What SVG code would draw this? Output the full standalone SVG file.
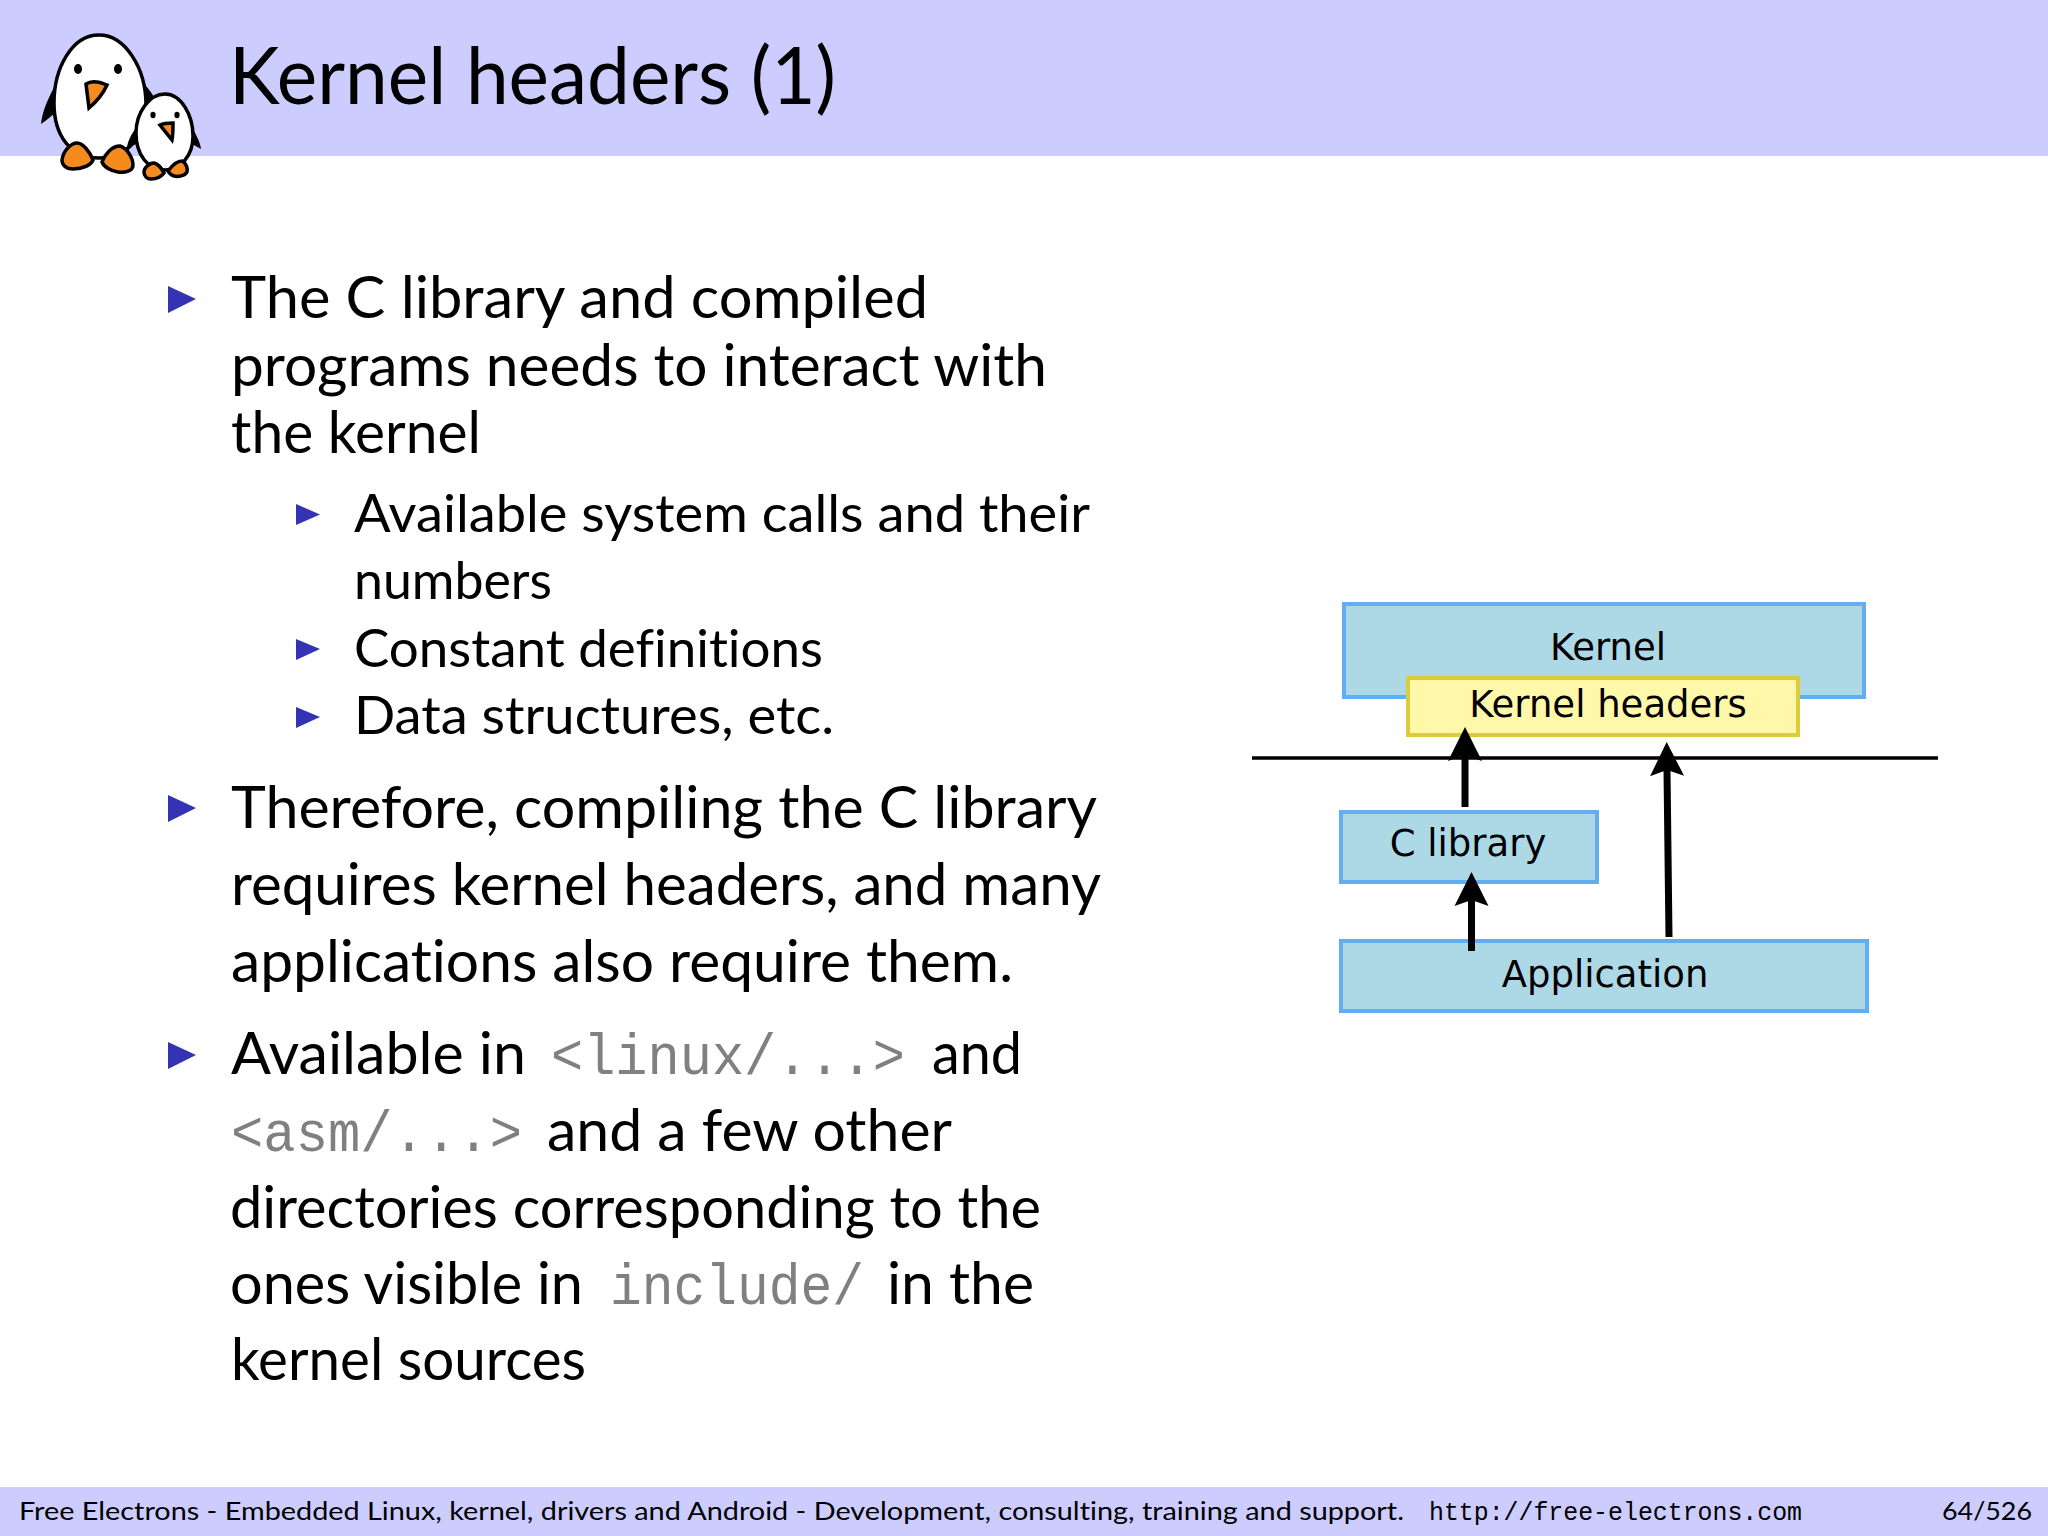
<svg xmlns="http://www.w3.org/2000/svg" width="2048" height="1536" viewBox="0 0 2048 1536">
<defs>
<style>
text{font-family:Lato,"Open Sans",sans-serif;fill:#000;font-variant-ligatures:none}
.t{font-size:80px}
.a{font-size:58px}
.b{font-size:52px}
.m{font-family:"Liberation Mono",monospace;font-size:58px;fill:#808080}
.f{font-size:25px}
.fm{font-family:"Liberation Mono",monospace;font-size:25px}
.d{font-family:"DejaVu Sans",sans-serif;font-size:37px;text-anchor:middle}
.bar{fill:#ccccff}
.box{fill:#add8e6;stroke:#62aef2;stroke-width:4}
.yel{fill:#fff8a8;stroke:#dccb3e;stroke-width:4}
.ar{stroke:#000;stroke-width:7;fill:none;marker-end:url(#h)}
.bl{fill:#3333b3}
.pb{fill:#fff;stroke:#000;stroke-width:3.5}
.pk{fill:#000;stroke:none}
.po{fill:#f58a1f;stroke:#000;stroke-width:3.5}
</style>
<marker id="h" markerUnits="userSpaceOnUse" markerWidth="36" markerHeight="36" refX="6" refY="17" orient="auto" viewBox="0 0 36 34"><path d="M34 17L0 0L6 17L0 34Z" fill="#000"/></marker>
</defs>
<rect width="2048" height="1536" fill="#fff"/>
<rect class="bar" width="2048" height="156"/>
<rect class="bar" y="1487" width="2048" height="49"/>
<g id="logo">
<path class="pk" d="M56 84C48 98 42 112 41 124C48 119 53 115 58 110Z"/>
<path class="pk" d="M144 84C150 90 154 96 156 102L140 120Z"/>
<path class="pb" d="M99 35C125 35 146 68 146 105C146 135 128 158 99 158C70 158 54 135 54 103C54 68 72 35 99 35Z"/>
<ellipse class="pk" cx="78" cy="69" rx="4" ry="5"/>
<ellipse class="pk" cx="118" cy="69" rx="4" ry="5"/>
<path class="po" d="M86 84C92 80 100 82 107 85C103 94 96 102 89 108Z"/>
<path class="po" d="M62 160C63 151 71 143 77 143C83 143 90 152 93 160C91 165 83 169 73 169C66 169 62 165 62 160Z"/>
<path class="po" d="M102 162C105 154 112 146 120 146C127 148 133 158 133 165C133 171 125 173 118 172C111 171 104 167 102 162Z"/>
<path class="pk" d="M137 127C131 134 128 141 127 147L137 144Z"/>
<path class="pk" d="M192 128C196 134 200 142 201 149L192 144Z"/>
<path class="pb" d="M165 94C181 94 193 115 193 136C193 155 181 170 165 170C148 170 136 155 136 133C136 113 149 94 165 94Z"/>
<ellipse class="pk" cx="153" cy="115" rx="2.6" ry="3.3"/>
<ellipse class="pk" cx="177" cy="115" rx="2.6" ry="3.3"/>
<path class="po" d="M160 125C164 123 169 123 173 123C173 129 173 135 172 140Z"/>
<path class="po" d="M144 172C144 168 149 163 154 163C158 164 162 169 164 173C161 177 156 179 151 179C147 179 144 176 144 172Z"/>
<path class="po" d="M168 171C171 167 177 161 182 161C186 163 188 168 187 172C185 176 178 177 174 176C171 175 169 173 168 171Z"/>
</g>
<text class="t" x="229" y="104" textLength="607" lengthAdjust="spacingAndGlyphs">Kernel headers (1)</text>
<g id="content">
<path class="bl" d="M168 286L196 299L168 313Z"/>
<path class="bl" d="M168 795L196 808L168 822Z"/>
<path class="bl" d="M168 1042L196 1055L168 1069Z"/>
<path class="bl" d="M296 504L320 514.500L296 525Z"/>
<path class="bl" d="M296 639L320 649L296 660Z"/>
<path class="bl" d="M296 707L320 717L296 728Z"/>
<text class="a" x="231" y="318" textLength="697" lengthAdjust="spacingAndGlyphs">The C library and compiled</text>
<text class="a" x="231" y="386" textLength="816" lengthAdjust="spacingAndGlyphs">programs needs to interact with</text>
<text class="a" x="231" y="453" textLength="250" lengthAdjust="spacingAndGlyphs">the kernel</text>
<text class="b" x="354" y="532" textLength="736" lengthAdjust="spacingAndGlyphs">Available system calls and their</text>
<text class="b" x="354" y="599" textLength="198" lengthAdjust="spacingAndGlyphs">numbers</text>
<text class="b" x="354" y="667" textLength="469" lengthAdjust="spacingAndGlyphs">Constant definitions</text>
<text class="b" x="354" y="734" textLength="480" lengthAdjust="spacingAndGlyphs">Data structures, etc.</text>
<text class="a" x="231" y="828" textLength="866" lengthAdjust="spacingAndGlyphs">Therefore, compiling the C library</text>
<text class="a" x="231" y="905" textLength="870" lengthAdjust="spacingAndGlyphs">requires kernel headers, and many</text>
<text class="a" x="231" y="982" textLength="782" lengthAdjust="spacingAndGlyphs">applications also require them.</text>
<text class="a" x="231" y="1074" textLength="295" lengthAdjust="spacingAndGlyphs">Available in</text>
<text class="m" x="551" y="1074" textLength="354" lengthAdjust="spacingAndGlyphs">&lt;linux/...&gt;</text>
<text class="a" x="932" y="1074" textLength="90" lengthAdjust="spacingAndGlyphs">and</text>
<text class="m" x="231" y="1151" textLength="291" lengthAdjust="spacingAndGlyphs">&lt;asm/...&gt;</text>
<text class="a" x="547" y="1151" textLength="405" lengthAdjust="spacingAndGlyphs">and a few other</text>
<text class="a" x="230" y="1228" textLength="811" lengthAdjust="spacingAndGlyphs">directories corresponding to the</text>
<text class="a" x="230" y="1304" textLength="353" lengthAdjust="spacingAndGlyphs">ones visible in</text>
<text class="m" x="610" y="1304" textLength="254" lengthAdjust="spacingAndGlyphs">include/</text>
<text class="a" x="887" y="1304" textLength="147" lengthAdjust="spacingAndGlyphs">in the</text>
<text class="a" x="231" y="1380" textLength="355" lengthAdjust="spacingAndGlyphs">kernel sources</text>
</g>
<g id="kernel"><rect class="box" x="1344" y="604" width="520" height="93"/><text class="d" x="1608" y="660">Kernel</text></g>
<g id="kernel-headers"><rect class="yel" x="1408" y="678" width="390" height="57"/><text class="d" x="1608" y="717">Kernel headers</text></g>
<g id="c-library"><rect class="box" x="1341" y="812" width="256" height="70"/><text class="d" x="1468" y="856">C library</text></g>
<g id="application"><rect class="box" x="1341" y="941" width="526" height="70"/><text class="d" x="1605" y="987">Application</text></g>
<g id="connectors">
<line x1="1252" y1="758" x2="1938" y2="758" stroke="#000" stroke-width="3.500"/>
<line class="ar" x1="1465" y1="807" x2="1465" y2="755"/>
<line class="ar" x1="1471.500" y1="951" x2="1471.500" y2="900"/>
<line class="ar" x1="1669" y1="937" x2="1667" y2="770"/>
</g>
<g id="footer">
<text class="f" x="19" y="1520" textLength="1385" lengthAdjust="spacingAndGlyphs">Free Electrons - Embedded Linux, kernel, drivers and Android - Development, consulting, training and support.</text>
<text class="fm" x="1429" y="1520" textLength="373" lengthAdjust="spacingAndGlyphs">http://free-electrons.com</text>
<text class="f" x="1942" y="1520" textLength="90" lengthAdjust="spacingAndGlyphs">64/526</text>
</g>
</svg>
